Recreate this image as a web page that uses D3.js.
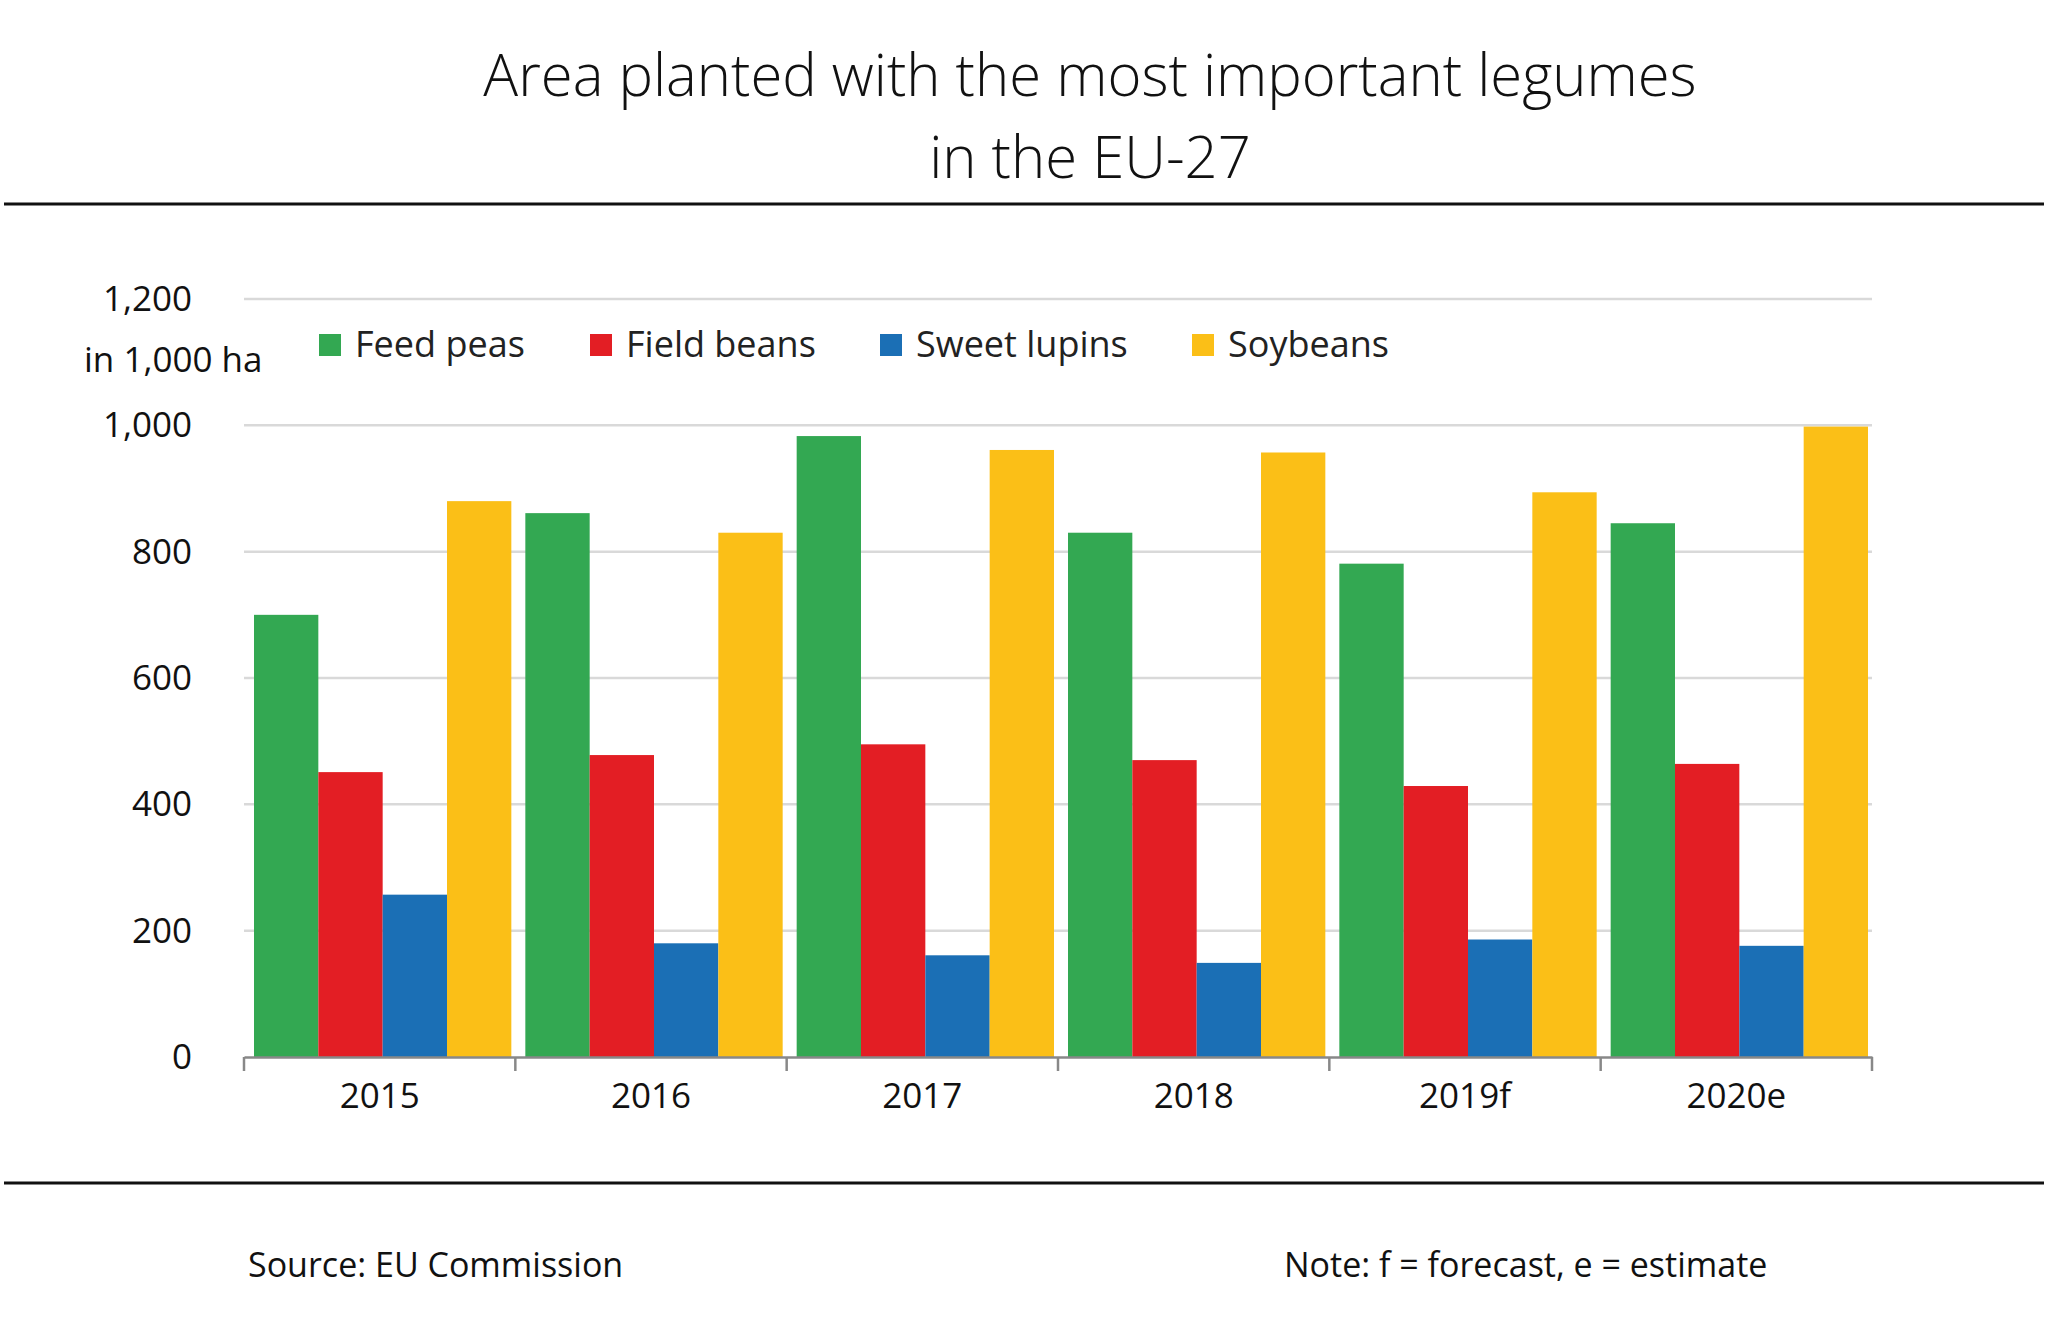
<!DOCTYPE html>
<html><head><meta charset="utf-8">
<script src="https://cdn.jsdelivr.net/npm/d3@7"></script>
<style>body{margin:0;background:#fff}svg{font-family:"Open Sans",sans-serif}</style>
</head><body>
<script>
const years = ["2015", "2016", "2017", "2018", "2019f", "2020e"];
const seriesNames = ["Feed peas", "Field beans", "Sweet lupins", "Soybeans"];
const feedPeas = [700, 861, 983, 830, 781, 845];
const fieldBeans = [451, 478, 495, 470, 429, 464];
const sweetLupins = [257, 180, 161, 149, 186, 176];
const soybeans = [880, 830, 961, 957, 894, 998];
const colors = ["#33a852", "#e31e24", "#1b6fb5", "#fbbf17"];
const yTicks = [0, 200, 400, 600, 800, 1000, 1200];

const series = [feedPeas, fieldBeans, sweetLupins, soybeans];
const W = 2048, H = 1326;
const svg = d3.select("body").append("svg").attr("width", W).attr("height", H);

svg.append("text").attr("x", 1090).attr("y", 96).attr("text-anchor", "middle")
  .attr("font-size", 58).attr("font-weight", 300).attr("fill", "#111")
  .text("Area planted with the most important legumes");
svg.append("text").attr("x", 1090).attr("y", 178).attr("text-anchor", "middle")
  .attr("font-size", 58).attr("font-weight", 300).attr("fill", "#111")
  .text("in the EU-27");
[204, 1183].forEach(y => svg.append("line").attr("x1", 4).attr("x2", 2044)
  .attr("y1", y).attr("y2", y).attr("stroke", "#111").attr("stroke-width", 3));

const x = d3.scaleBand().domain(years).range([244, 1872]);
const xi = d3.scaleBand().domain(d3.range(4)).range([10, x.bandwidth() - 4]);
const y = d3.scaleLinear().domain([0, 1200]).range([1057, 299]);

svg.append("g").selectAll("line").data(yTicks.slice(1)).join("line")
  .attr("x1", 244).attr("x2", 1872).attr("y1", d => y(d)).attr("y2", d => y(d))
  .attr("stroke", "#d9d9d9").attr("stroke-width", 2.5);
svg.append("g").selectAll("text").data(yTicks).join("text")
  .attr("x", 192).attr("y", d => y(d) + 12).attr("text-anchor", "end")
  .attr("font-size", 35).attr("fill", "#111").text(d => d3.format(",")(d));
svg.append("text").attr("x", 84).attr("y", 372).attr("font-size", 35).attr("fill", "#111")
  .text("in 1,000 ha");

years.forEach((yr, i) => {
  svg.append("g").selectAll("rect").data(series.map(s => s[i])).join("rect")
    .attr("x", (d, j) => x(yr) + xi(j)).attr("width", xi.bandwidth())
    .attr("y", d => y(d)).attr("height", d => y(0) - y(d))
    .attr("fill", (d, j) => colors[j]);
});

const xAxis = svg.append("g").attr("transform", `translate(0,${y(0)})`)
  .call(d3.axisBottom(x).tickSize(0).tickPadding(26));
xAxis.select(".domain").attr("stroke", "#888").attr("stroke-width", 2.5);
xAxis.selectAll("text").attr("font-size", 35).attr("fill", "#111")
  .attr("font-family", "Open Sans");
svg.append("g").selectAll("line").data(years.concat(["end"])).join("line")
  .attr("x1", (d, i) => 244 + i * x.step()).attr("x2", (d, i) => 244 + i * x.step())
  .attr("y1", y(0)).attr("y2", y(0) + 14).attr("stroke", "#888").attr("stroke-width", 2.5);

const legX = [319, 590, 880, 1192];
seriesNames.forEach((n, j) => {
  svg.append("rect").attr("x", legX[j]).attr("y", 334).attr("width", 22).attr("height", 22)
    .attr("fill", colors[j]);
  svg.append("text").attr("x", legX[j] + 36).attr("y", 357).attr("font-size", 36)
    .attr("fill", "#222").text(n);
});

svg.append("text").attr("x", 248).attr("y", 1277).attr("font-size", 34).attr("fill", "#111")
  .text("Source: EU Commission");
svg.append("text").attr("x", 1284).attr("y", 1277).attr("font-size", 34).attr("fill", "#111")
  .text("Note: f = forecast, e = estimate");
</script>
</body></html>
